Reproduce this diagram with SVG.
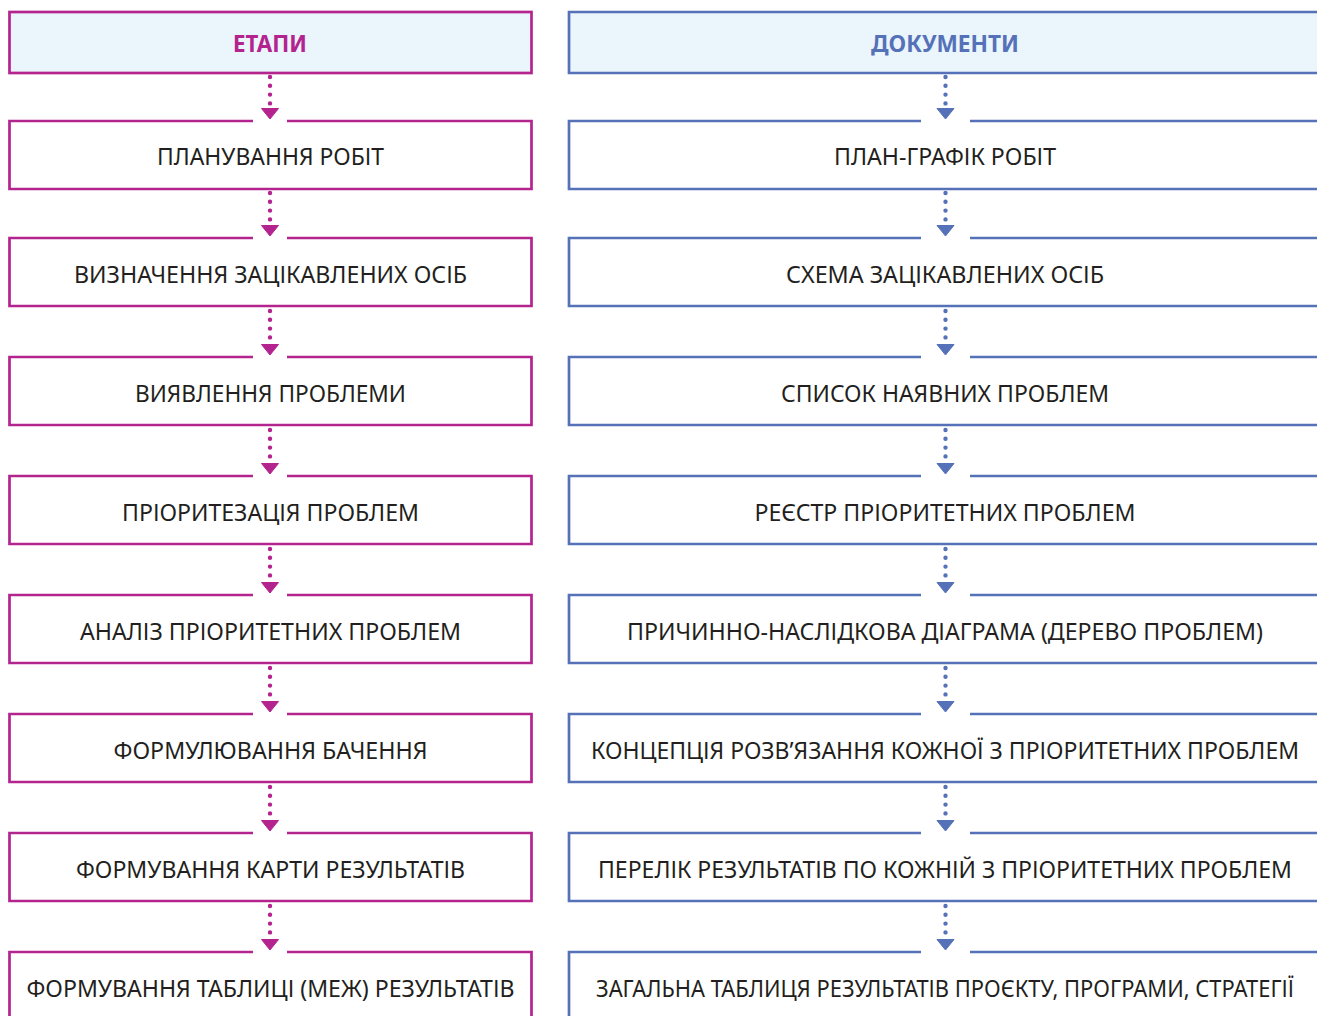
<svg xmlns="http://www.w3.org/2000/svg" xmlns:xlink="http://www.w3.org/1999/xlink" width="1317" height="1016" viewBox="0 0 1317 1016">
<style>
  .bg { fill: #ffffff; }
  .pk { stroke: #B4248F; }
  .bl { stroke: #5571B8; }
  .box { fill: none; stroke-width: 2.7; }
  .hdr { fill: #EAF5FC; stroke-width: 2.7; }
  .txt { font-family: "Noto Sans", "Open Sans", sans-serif; font-size: 24px; fill: #231F20; text-anchor: middle; }
  .htxt { font-family: "Noto Sans", "Open Sans", sans-serif; font-size: 23px; font-weight: bold; text-anchor: middle; }
  .dots { stroke-width: 4.4; stroke-linecap: round; stroke-dasharray: 0 8.8; fill: none; }
  .ahp { fill: #B4248F; }
  .ahb { fill: #5571B8; }
</style>
<defs>
  <path id="ah" d="M-8.5,0 L8.5,0 L0,10.5 Z"/>
</defs>
<rect class="bg" x="0" y="0" width="1317" height="1016"/>

<g id="left-header">
  <rect class="hdr pk" x="9.5" y="12" width="522" height="61"/>
  <text class="htxt" x="270" y="52" fill="#B4248F" textLength="74" lengthAdjust="spacingAndGlyphs">ЕТАПИ</text>
</g>
<g id="right-header">
  <path class="hdr bl" d="M1318,12 H569 V73 H1318"/>
  <text class="htxt" x="945" y="52" fill="#5571B8" textLength="148" lengthAdjust="spacingAndGlyphs">ДОКУМЕНТИ</text>
</g>

<g id="l1"><path class="box pk" d="M253,121 H9.5 V189 H531.5 V121 H287"/><text class="txt" x="270.5" y="165" textLength="227" lengthAdjust="spacingAndGlyphs">ПЛАНУВАННЯ РОБІТ</text></g>
<g id="l2"><path class="box pk" d="M253,238 H9.5 V306 H531.5 V238 H287"/><text class="txt" x="270.5" y="282.5" textLength="393" lengthAdjust="spacingAndGlyphs">ВИЗНАЧЕННЯ ЗАЦІКАВЛЕНИХ ОСІБ</text></g>
<g id="l3"><path class="box pk" d="M253,357 H9.5 V425 H531.5 V357 H287"/><text class="txt" x="270.5" y="401.5" textLength="271" lengthAdjust="spacingAndGlyphs">ВИЯВЛЕННЯ ПРОБЛЕМИ</text></g>
<g id="l4"><path class="box pk" d="M253,476 H9.5 V544 H531.5 V476 H287"/><text class="txt" x="270.5" y="520.5" textLength="297" lengthAdjust="spacingAndGlyphs">ПРІОРИТЕЗАЦІЯ ПРОБЛЕМ</text></g>
<g id="l5"><path class="box pk" d="M253,595 H9.5 V663 H531.5 V595 H287"/><text class="txt" x="270.5" y="639.5" textLength="381" lengthAdjust="spacingAndGlyphs">АНАЛІЗ ПРІОРИТЕТНИХ ПРОБЛЕМ</text></g>
<g id="l6"><path class="box pk" d="M253,714 H9.5 V782 H531.5 V714 H287"/><text class="txt" x="270.5" y="759" textLength="314" lengthAdjust="spacingAndGlyphs">ФОРМУЛЮВАННЯ БАЧЕННЯ</text></g>
<g id="l7"><path class="box pk" d="M253,833 H9.5 V901 H531.5 V833 H287"/><text class="txt" x="270.5" y="878" textLength="389" lengthAdjust="spacingAndGlyphs">ФОРМУВАННЯ КАРТИ РЕЗУЛЬТАТІВ</text></g>
<g id="l8"><path class="box pk" d="M253,952 H9.5 V1017 M531.5,1017 V952 H287"/><text class="txt" x="270.5" y="997" textLength="488" lengthAdjust="spacingAndGlyphs">ФОРМУВАННЯ ТАБЛИЦІ (МЕЖ) РЕЗУЛЬТАТІВ</text></g>

<g id="r1"><path class="box bl" d="M921,121 H569 V189 H1318 M1318,121 H970"/><text class="txt" x="945" y="165" textLength="222" lengthAdjust="spacingAndGlyphs">ПЛАН-ГРАФІК РОБІТ</text></g>
<g id="r2"><path class="box bl" d="M921,238 H569 V306 H1318 M1318,238 H970"/><text class="txt" x="945" y="282.5" textLength="318" lengthAdjust="spacingAndGlyphs">СХЕМА ЗАЦІКАВЛЕНИХ ОСІБ</text></g>
<g id="r3"><path class="box bl" d="M921,357 H569 V425 H1318 M1318,357 H970"/><text class="txt" x="945" y="401.5" textLength="328" lengthAdjust="spacingAndGlyphs">СПИСОК НАЯВНИХ ПРОБЛЕМ</text></g>
<g id="r4"><path class="box bl" d="M921,476 H569 V544 H1318 M1318,476 H970"/><text class="txt" x="945" y="520.5" textLength="381" lengthAdjust="spacingAndGlyphs">РЕЄСТР ПРІОРИТЕТНИХ ПРОБЛЕМ</text></g>
<g id="r5"><path class="box bl" d="M921,595 H569 V663 H1318 M1318,595 H970"/><text class="txt" x="945" y="639.5" textLength="636" lengthAdjust="spacingAndGlyphs">ПРИЧИННО-НАСЛІДКОВА ДІАГРАМА (ДЕРЕВО ПРОБЛЕМ)</text></g>
<g id="r6"><path class="box bl" d="M921,714 H569 V782 H1318 M1318,714 H970"/><text class="txt" x="945" y="759" textLength="708" lengthAdjust="spacingAndGlyphs">КОНЦЕПЦІЯ РОЗВ’ЯЗАННЯ КОЖНОЇ З ПРІОРИТЕТНИХ ПРОБЛЕМ</text></g>
<g id="r7"><path class="box bl" d="M921,833 H569 V901 H1318 M1318,833 H970"/><text class="txt" x="945" y="878" textLength="694" lengthAdjust="spacingAndGlyphs">ПЕРЕЛІК РЕЗУЛЬТАТІВ ПО КОЖНІЙ З ПРІОРИТЕТНИХ ПРОБЛЕМ</text></g>
<g id="r8"><path class="box bl" d="M921,952 H569 V1017 M1318,952 H970"/><text class="txt" x="945" y="997" textLength="698" lengthAdjust="spacingAndGlyphs">ЗАГАЛЬНА ТАБЛИЦЯ РЕЗУЛЬТАТІВ ПРОЄКТУ, ПРОГРАМИ, СТРАТЕГІЇ</text></g>

<g id="connectors">
  <g class="pk">
    <line class="dots" x1="270" y1="77" x2="270" y2="104"/><use xlink:href="#ah" href="#ah" class="ahp" x="270" y="108.5"/>
    <line class="dots" x1="270" y1="193" x2="270" y2="220"/><use xlink:href="#ah" href="#ah" class="ahp" x="270" y="225.5"/>
    <line class="dots" x1="270" y1="311" x2="270" y2="338"/><use xlink:href="#ah" href="#ah" class="ahp" x="270" y="344.5"/>
    <line class="dots" x1="270" y1="430" x2="270" y2="457"/><use xlink:href="#ah" href="#ah" class="ahp" x="270" y="463.5"/>
    <line class="dots" x1="270" y1="549" x2="270" y2="576"/><use xlink:href="#ah" href="#ah" class="ahp" x="270" y="582.5"/>
    <line class="dots" x1="270" y1="668" x2="270" y2="695"/><use xlink:href="#ah" href="#ah" class="ahp" x="270" y="701.5"/>
    <line class="dots" x1="270" y1="787" x2="270" y2="814"/><use xlink:href="#ah" href="#ah" class="ahp" x="270" y="820.5"/>
    <line class="dots" x1="270" y1="906" x2="270" y2="933"/><use xlink:href="#ah" href="#ah" class="ahp" x="270" y="939.5"/>
  </g>
  <g class="bl">
    <line class="dots" x1="945.5" y1="77" x2="945.5" y2="104"/><use xlink:href="#ah" href="#ah" class="ahb" x="945.5" y="108.5"/>
    <line class="dots" x1="945.5" y1="193" x2="945.5" y2="220"/><use xlink:href="#ah" href="#ah" class="ahb" x="945.5" y="225.5"/>
    <line class="dots" x1="945.5" y1="311" x2="945.5" y2="338"/><use xlink:href="#ah" href="#ah" class="ahb" x="945.5" y="344.5"/>
    <line class="dots" x1="945.5" y1="430" x2="945.5" y2="457"/><use xlink:href="#ah" href="#ah" class="ahb" x="945.5" y="463.5"/>
    <line class="dots" x1="945.5" y1="549" x2="945.5" y2="576"/><use xlink:href="#ah" href="#ah" class="ahb" x="945.5" y="582.5"/>
    <line class="dots" x1="945.5" y1="668" x2="945.5" y2="695"/><use xlink:href="#ah" href="#ah" class="ahb" x="945.5" y="701.5"/>
    <line class="dots" x1="945.5" y1="787" x2="945.5" y2="814"/><use xlink:href="#ah" href="#ah" class="ahb" x="945.5" y="820.5"/>
    <line class="dots" x1="945.5" y1="906" x2="945.5" y2="933"/><use xlink:href="#ah" href="#ah" class="ahb" x="945.5" y="939.5"/>
  </g>
</g>
</svg>
